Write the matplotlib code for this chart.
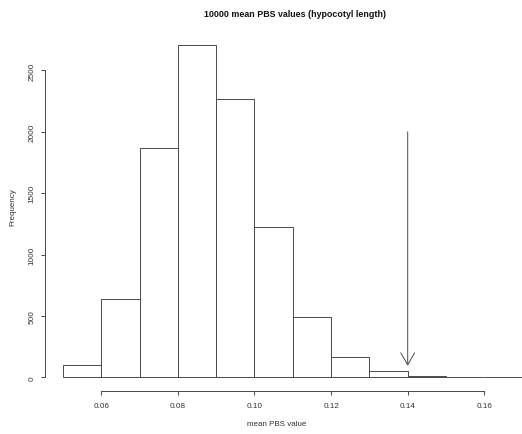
import numpy as np
import matplotlib.pyplot as plt

plt.rcParams['font.family'] = ['Liberation Sans', 'DejaVu Sans']

# histogram of mean PBS values
bin_edges = [0.05, 0.06, 0.07, 0.08, 0.09, 0.10, 0.11, 0.12, 0.13, 0.14, 0.15, 0.16, 0.17]
counts = [100, 635, 1868, 2707, 2270, 1225, 489, 168, 55, 14, 5, 1]
observed_pbs = 0.14  # arrow marks the observed value
arrow_from, arrow_to = 2000, 94

x_ticks = [0.06, 0.08, 0.10, 0.12, 0.14, 0.16]
x_ticklabels = ['0.06', '0.08', '0.10', '0.12', '0.14', '0.16']
y_ticks = [0, 500, 1000, 1500, 2000, 2500]

line_col = '#4a4a4a'

fig = plt.figure(figsize=(5.22, 4.35), dpi=100)
ax = fig.add_axes([0.0854, 0.0998, 0.951, 0.825])

edges = np.array(bin_edges)
ax.bar(edges[:-1], counts, width=np.diff(edges), align='edge',
       fill=False, edgecolor=line_col, linewidth=0.7)

# R-style axis ranges (4% padding)
xr = edges[-1] - edges[0]
ax.set_xlim(edges[0] - 0.04 * xr, edges[-1] + 0.04 * xr)
ymax = max(counts)
ax.set_ylim(-0.04 * ymax, 1.04 * ymax)

ax.annotate('', xy=(observed_pbs, arrow_to), xytext=(observed_pbs, arrow_from),
            arrowprops=dict(arrowstyle='->,head_length=0.86,head_width=0.5',
                            color=line_col, lw=0.7, shrinkA=0, shrinkB=0,
                            mutation_scale=10))

for s in ['top', 'right']:
    ax.spines[s].set_visible(False)
ax.spines['left'].set_bounds(y_ticks[0], y_ticks[-1])
ax.spines['bottom'].set_bounds(x_ticks[0], x_ticks[-1])
for s in ['left', 'bottom']:
    ax.spines[s].set_color(line_col)
    ax.spines[s].set_linewidth(0.7)

ax.set_xticks(x_ticks)
ax.set_xticklabels(x_ticklabels)
ax.set_yticks(y_ticks)
ax.tick_params(axis='both', length=3, width=0.7, color=line_col, labelsize=5.9,
               labelcolor='#333333')
ax.tick_params(axis='x', pad=5)
ax.tick_params(axis='y', pad=3.5)
for lab in ax.get_yticklabels():
    lab.set_rotation(90)
    lab.set_va('center')

fig.text(0.565, 0.967, '10000 mean PBS values (hypocotyl length)', ha='center', va='center',
         fontsize=6.4, fontweight='bold', color='#111111')
fig.text(0.53, 0.024, 'mean PBS value', ha='center', va='center', fontsize=5.8, color='#333333')
fig.text(0.025, 0.524, 'Frequency', ha='center', va='center', rotation=90,
         fontsize=5.8, color='#333333')

fig.savefig('out.png', dpi=100)
